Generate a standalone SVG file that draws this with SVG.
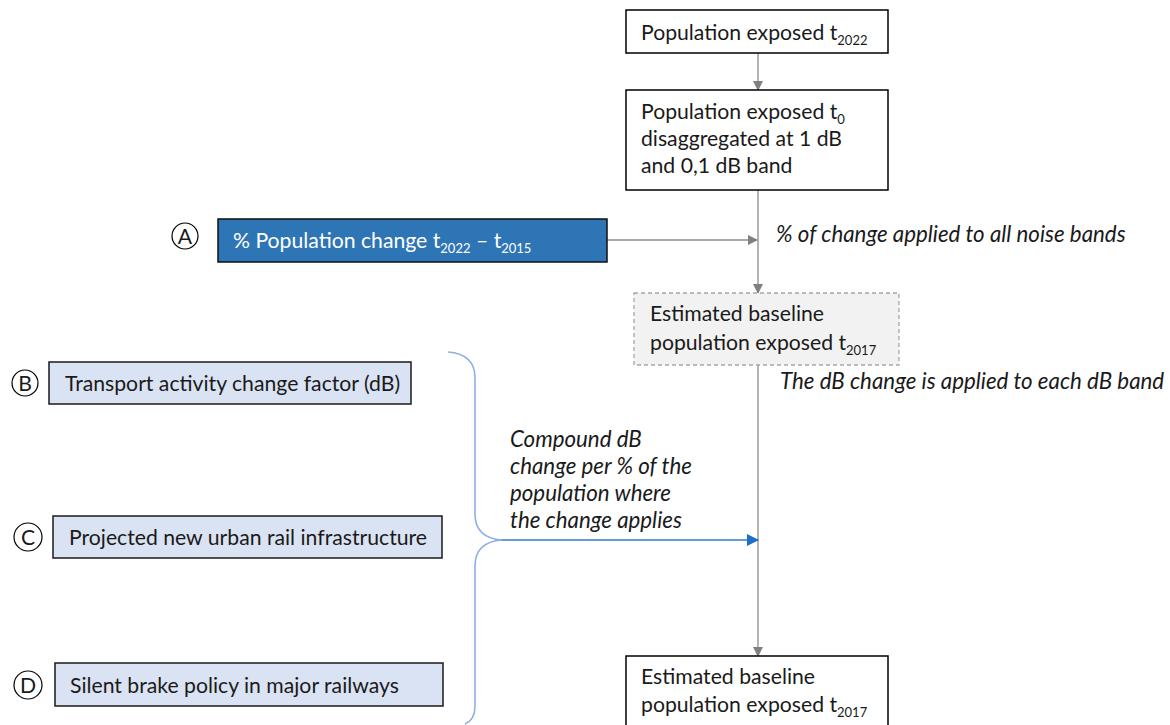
<svg xmlns="http://www.w3.org/2000/svg" width="1170" height="725" viewBox="0 0 1170 725">
  <style>
    text { font-family: Lato, "Liberation Sans", sans-serif; font-size: 21.2px; fill: #1a1a1a; }
    .it { font-style: italic; font-size: 22.3px; }
    .sub { font-size: 13px; }
    .box { fill: #ffffff; stroke: #000000; stroke-width: 1.5; }
    .input { fill: #dae3f3; stroke: #1a1a1a; stroke-width: 1.5; }
    .tag { fill: #ffffff; stroke: #000000; stroke-width: 1.2; }
    .flow { stroke: #8c8c8c; stroke-width: 1.3; fill: none; }
    .blue { stroke: #2f7bd0; stroke-width: 1.3; fill: none; }
    .brace { stroke: #8fb0e3; stroke-width: 1.6; fill: none; }
  </style>
  <defs>
    <marker id="arrGrey" markerWidth="10" markerHeight="10" refX="9" refY="5" orient="auto" markerUnits="userSpaceOnUse">
      <path d="M0,0 L10,5 L0,10 Z" fill="#808080"/>
    </marker>
    <marker id="arrBlue" markerWidth="12" markerHeight="12" refX="11" refY="6" orient="auto" markerUnits="userSpaceOnUse">
      <path d="M0,0 L12,6 L0,12 Z" fill="#1f6fc8"/>
    </marker>
  </defs>

  <rect width="1170" height="725" fill="#ffffff"/>

  <!-- connectors -->
  <g id="connectors">
    <line class="flow" x1="758" y1="53" x2="758" y2="90" marker-end="url(#arrGrey)"/>
    <line class="flow" x1="758" y1="190" x2="758" y2="293" marker-end="url(#arrGrey)"/>
    <line class="flow" x1="607" y1="240" x2="757" y2="240" marker-end="url(#arrGrey)"/>
    <line class="flow" x1="758" y1="365" x2="758" y2="656" marker-end="url(#arrGrey)"/>
    <line class="blue" x1="500" y1="540" x2="758" y2="540" marker-end="url(#arrBlue)"/>
    <path class="brace" d="M448,352 Q475,354 475,378 L475,514 Q475,538 502,540 Q475,542 475,566 L475,706 Q475,720 465,724"/>
  </g>

  <!-- process boxes -->
  <g id="exposed2022">
    <rect class="box" x="626" y="10" width="262" height="43"/>
    <text x="641" y="40">Population exposed t<tspan class="sub" dy="5">2022</tspan></text>
  </g>

  <g id="exposedT0">
    <rect class="box" x="626" y="90" width="262" height="100"/>
    <text x="641" y="119">Population exposed t<tspan class="sub" dy="5">0</tspan></text>
    <text x="641" y="146">disaggregated at 1 dB</text>
    <text x="641" y="173">and 0,1 dB band</text>
  </g>

  <g id="baselineEstimate">
    <rect x="634" y="293" width="265" height="72" fill="#f2f2f2" stroke="#a6a6a6" stroke-width="1.3" stroke-dasharray="4,3"/>
    <text x="650" y="321">Estimated baseline</text>
    <text x="650" y="350">population exposed t<tspan class="sub" dy="5">2017</tspan></text>
  </g>

  <g id="baselineFinal">
    <rect class="box" x="626" y="656" width="262" height="75"/>
    <text x="641" y="684">Estimated baseline</text>
    <text x="641" y="712">population exposed t<tspan class="sub" dy="5">2017</tspan></text>
  </g>

  <!-- inputs -->
  <g id="inputA">
    <circle class="tag" cx="185" cy="236" r="13"/>
    <text x="185" y="243.5" text-anchor="middle">A</text>
    <rect x="218" y="219" width="389" height="43" fill="#2e75b6" stroke="#111111" stroke-width="1.5"/>
    <text x="233" y="248" style="fill:#ffffff">% Population change t<tspan class="sub" dy="5" style="fill:#ffffff">2022</tspan><tspan dy="-5" style="fill:#ffffff">  – t</tspan><tspan class="sub" dy="5" style="fill:#ffffff">2015</tspan></text>
  </g>

  <g id="inputB">
    <circle class="tag" cx="25" cy="383" r="13"/>
    <text x="25" y="390.5" text-anchor="middle">B</text>
    <rect class="input" x="49" y="362" width="362" height="42"/>
    <text x="65" y="391">Transport activity change factor (dB)</text>
  </g>

  <g id="inputC">
    <circle class="tag" cx="28" cy="537" r="14"/>
    <text x="28" y="544.5" text-anchor="middle">C</text>
    <rect class="input" x="53" y="516" width="389" height="42"/>
    <text x="69" y="545">Projected new urban rail infrastructure</text>
  </g>

  <g id="inputD">
    <circle class="tag" cx="28" cy="685" r="14"/>
    <text x="28" y="692.5" text-anchor="middle">D</text>
    <rect class="input" x="55" y="663" width="388" height="43"/>
    <text x="70" y="693">Silent brake policy in major railways</text>
  </g>

  <!-- annotations -->
  <g id="labels">
    <text class="it" x="776" y="242">% of change applied to all noise bands</text>
    <text class="it" x="780" y="389">The dB change is applied to each dB band</text>
    <text class="it" x="510" y="447">Compound dB</text>
    <text class="it" x="510" y="474">change per % of the</text>
    <text class="it" x="510" y="501">population where</text>
    <text class="it" x="510" y="528">the change applies</text>
  </g>
</svg>
